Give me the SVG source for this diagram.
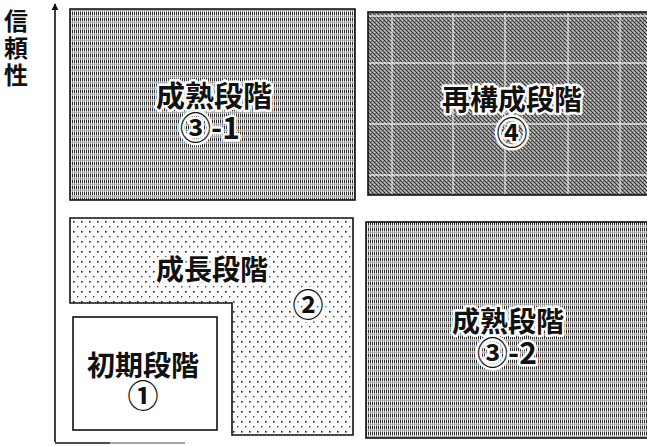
<svg xmlns="http://www.w3.org/2000/svg" width="647" height="446" viewBox="0 0 647 446">
<style>
.box{stroke:#111;stroke-width:1.6}
.lbl{font-family:"Noto Sans CJK JP","Noto Sans CJK SC",sans-serif;font-weight:700;fill:#111;text-anchor:middle;stroke:#fff;stroke-width:5;paint-order:stroke;stroke-linejoin:round;font-size:28px}
.c{font-size:31px}
.d{font-size:30px}
.axis{font-family:"Noto Sans CJK JP","Noto Sans CJK SC",sans-serif;font-weight:700;font-size:24px;fill:#111;writing-mode:vertical-rl;letter-spacing:3px}
</style>
<defs>
<pattern id="vstripe" width="2" height="6" patternUnits="userSpaceOnUse">
<rect width="2" height="6" fill="#f2f2f2"/>
<rect x="0" y="0" width="1" height="3" fill="#2e2e2e"/>
<rect x="0" y="3" width="1" height="3" fill="#9c9c9c"/>
<rect x="1" y="4" width="1" height="1" fill="#c4c4c4"/>
</pattern>
<pattern id="dark" width="4" height="4" patternUnits="userSpaceOnUse">
<rect width="4" height="4" fill="#8a8a8a"/>
<rect x="0" y="0" width="1" height="1" fill="#2a2a2a"/>
<rect x="2" y="0" width="1" height="1" fill="#d8d8d8"/>
<rect x="1" y="1" width="1" height="1" fill="#404040"/>
<rect x="3" y="1" width="1" height="1" fill="#6a6a6a"/>
<rect x="0" y="2" width="1" height="1" fill="#c4c4c4"/>
<rect x="2" y="2" width="1" height="1" fill="#333"/>
<rect x="1" y="3" width="1" height="1" fill="#b4b4b4"/>
<rect x="3" y="3" width="1" height="1" fill="#444"/>
</pattern>
<pattern id="dots" width="8" height="10" patternUnits="userSpaceOnUse">
<rect width="8" height="10" fill="#ffffff"/>
<rect x="1" y="1" width="1.6" height="1.6" fill="#222"/>
<rect x="5" y="6" width="1.4" height="1.4" fill="#444"/>
</pattern>
<marker id="arr" viewBox="0 0 10 10" refX="9" refY="5" markerWidth="7" markerHeight="9" orient="auto-start-reverse" markerUnits="userSpaceOnUse">
<path d="M0,0 L10,5 L0,10 Z" fill="#111"/>
</marker>
</defs>

<g id="connectors">
<line x1="55" y1="442" x2="55" y2="4" stroke="#111" stroke-width="1.6" marker-end="url(#arr)"/>
<line x1="55" y1="443" x2="110" y2="443" stroke="#111" stroke-width="1.6"/>
<line x1="110" y1="443" x2="185" y2="443" stroke="#888" stroke-width="1.4"/>
</g>

<g id="axis-label">
<text class="axis" x="16" y="9">信頼性</text>
</g>

<g id="mature1">
<rect class="box" x="70" y="9" width="285" height="191" fill="url(#vstripe)"/>
<text class="lbl" x="214" y="107" style="font-size:29px">成熟段階<tspan x="210" y="139"><tspan class="c">③</tspan><tspan class="d">-1</tspan></tspan></text>
</g>

<g id="rebuild">
<rect class="box" x="368" y="12" width="284" height="183" fill="url(#dark)"/>
<g stroke="#f2f2f2" stroke-width="1.3" opacity="0.85">
<line x1="392" y1="13" x2="392" y2="194"/>
<line x1="453" y1="13" x2="453" y2="194"/>
<line x1="505" y1="13" x2="505" y2="194"/>
<line x1="568" y1="13" x2="568" y2="194"/>
<line x1="620" y1="13" x2="620" y2="194"/>
<line x1="369" y1="16" x2="647" y2="16"/>
<line x1="369" y1="63" x2="647" y2="63"/>
<line x1="369" y1="124" x2="647" y2="124"/>
<line x1="369" y1="175" x2="647" y2="175"/>
</g>
<text class="lbl" x="512" y="110">再構成段階<tspan class="c" x="512" y="144">④</tspan></text>
</g>

<g id="growth">
<path class="box" d="M70,218 L353,218 L353,435 L232,435 L232,303 L70,303 Z" fill="url(#dots)"/>
<text class="lbl" x="212" y="280">成長段階</text>
<text class="lbl c" x="308" y="316">②</text>
</g>

<g id="initial">
<rect class="box" x="73" y="317" width="144" height="113" fill="#fff"/>
<text class="lbl" x="143" y="376">初期段階<tspan class="c" x="143" y="407">①</tspan></text>
</g>

<g id="mature2">
<rect class="box" x="366" y="222" width="286" height="216" fill="url(#vstripe)"/>
<text class="lbl" x="508" y="332">成熟段階<tspan x="507" y="364"><tspan class="c">③</tspan><tspan class="d">-2</tspan></tspan></text>
</g>
</svg>
